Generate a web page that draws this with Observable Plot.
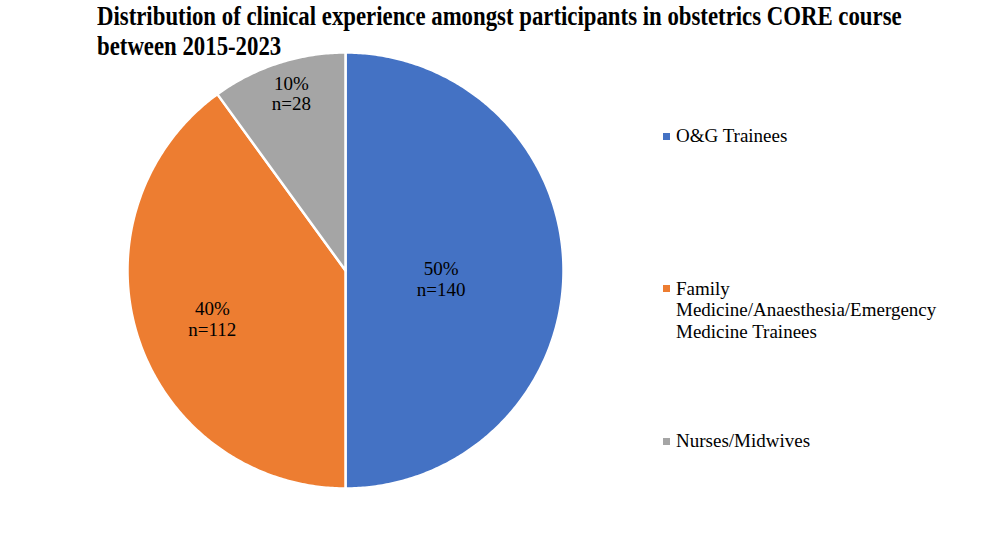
<!DOCTYPE html>
<html>
<head>
<meta charset="utf-8">
<script src="https://cdn.jsdelivr.net/npm/d3@7"></script>
<script src="https://cdn.jsdelivr.net/npm/@observablehq/plot@0.6"></script>
<style>
  html, body { margin: 0; padding: 0; background: #fff; }
  #wrap { position: relative; width: 986px; height: 540px; overflow: hidden; font-family: 'Liberation Serif', serif; }
  #title { position: absolute; left: 97px; top: 1px; font-family: 'Liberation Serif', serif; font-weight: bold; font-size: 28px; line-height: 30px; color: #000; transform: scaleX(0.814); transform-origin: 0 0; white-space: nowrap; z-index: 2; }
  #legend { position: absolute; left: 0; top: 0; }
  .entry { position: absolute; left: 663px; display: flex; align-items: flex-start; }
  .swatch { width: 7px; height: 7px; margin-top: 7.5px; margin-right: 6px; flex: none; }
  .lab { font-family: 'Liberation Serif', serif; font-size: 19px; line-height: 21.5px; color: #000; white-space: pre; }
  #chart { position: absolute; left: 0; top: 0; }
</style>
</head>
<body>
<div id="wrap">
  <div id="chart"></div>
  <div id="title">Distribution of clinical experience amongst participants in obstetrics CORE course<br>between 2015-2023</div>
  <div id="legend"></div>
</div>
<script>
const categories = ["O&G Trainees", "Family Medicine/Anaesthesia/Emergency Medicine Trainees", "Nurses/Midwives"];
const counts = [140, 112, 28];
const colors = ["#4472C4", "#ED7D31", "#A5A5A5"];
const legendLabels = ["O&G Trainees", "Family\nMedicine/Anaesthesia/Emergency\nMedicine Trainees", "Nurses/Midwives"];

// layout (not data)
const W = 986, H = 540, CX = 345, CY = 270, R = 218;
const labelPlace = [{r: 0.44, a: 95}, {r: 0.65, a: 250}, {r: 0.85, a: 343}];

const total = d3.sum(counts);
const pie = d3.pie().sort(null).value(d => d)(counts);

const slicePts = [];
pie.forEach((p, i) => {
  slicePts.push({cat: categories[i], x: 0, y: 0});
  const n = Math.max(8, Math.ceil((p.endAngle - p.startAngle) / 0.01));
  for (let k = 0; k <= n; k++) {
    const a = p.startAngle + (p.endAngle - p.startAngle) * k / n;
    slicePts.push({cat: categories[i], x: Math.sin(a), y: Math.cos(a)});
  }
});

const labels = pie.map((p, i) => {
  const a = labelPlace[i].a * Math.PI / 180;
  return {
    x: labelPlace[i].r * Math.sin(a),
    y: labelPlace[i].r * Math.cos(a),
    text: `${Math.round(counts[i] / total * 100)}%\nn=${counts[i]}`
  };
});

const chart = Plot.plot({
  width: W, height: H,
  margin: 0,
  x: {domain: [-CX / R, (W - CX) / R], range: [0, W], axis: null},
  y: {domain: [-(H - CY) / R, CY / R], range: [H, 0], axis: null},
  color: {domain: categories, range: colors},
  style: {fontFamily: "'Liberation Serif', serif", background: "#fff"},
  marks: [
    Plot.line(slicePts, {x: "x", y: "y", z: "cat", fill: "cat", stroke: "#fff", strokeWidth: 2.5, strokeLinejoin: "round", curve: "linear-closed"}),
    Plot.text(labels, {x: "x", y: "y", text: "text", fontSize: 19, lineHeight: 1.1, fill: "#000", lineAnchor: "middle", fontFamily: "'Liberation Serif', serif"})
  ]
});
document.getElementById("chart").appendChild(chart);

const legend = document.getElementById("legend");
categories.forEach((c, i) => {
  const e = document.createElement("div");
  e.className = "entry";
  e.style.top = (125 + i * 152.5) + "px";
  const s = document.createElement("div");
  s.className = "swatch";
  s.style.background = colors[i];
  const t = document.createElement("div");
  t.className = "lab";
  t.textContent = legendLabels[i];
  e.appendChild(s); e.appendChild(t);
  legend.appendChild(e);
});
</script>
</body>
</html>
